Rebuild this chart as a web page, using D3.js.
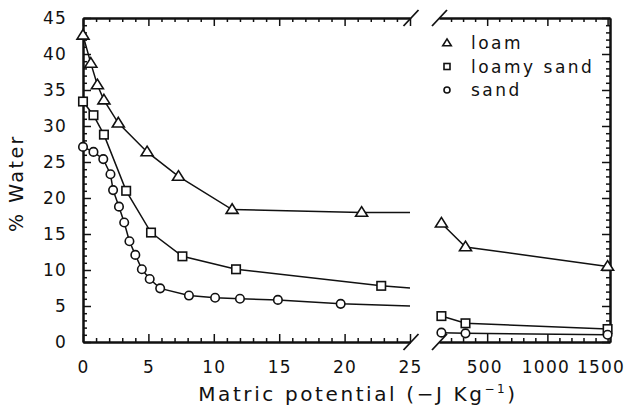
<!DOCTYPE html>
<html><head><meta charset="utf-8">
<script src="https://cdn.jsdelivr.net/npm/d3@7"></script>
<style>
body{margin:0;background:#fff;}
text{font-family:"DejaVu Sans",sans-serif;fill:#111;}
</style></head>
<body><svg id="c" width="628" height="408"></svg>
<script>
// ---- data ----
const yTicks = [0,5,10,15,20,25,30,35,40,45];
const xTicksLeft = [0,5,10,15,20,25];
const xTicksRight = [500,1000,1500];
const xMinorRight = [200,300,400,600,700,800,900,1100,1200,1300,1400];
const seriesNames = ["loam","loamy sand","sand"];

const loamX  = [0,0.6,1.1,1.6,2.7,4.9,7.3,11.4,21.3];
const loamY  = [42.6,38.7,35.7,33.6,30.4,26.4,23.0,18.4,18.0];
const loamEnd = 18.0;             // value where left panel ends (x=25)
const loamXR = [120,320,1500];
const loamYR = [16.5,13.2,10.5];

const lsandX = [0,0.8,1.6,3.3,5.2,7.6,11.7,22.8];
const lsandY = [33.4,31.5,28.8,21.0,15.2,11.9,10.1,7.8];
const lsandEnd = 7.5;
const lsandXR = [120,320,1500];
const lsandYR = [3.6,2.6,1.8];

const sandX = [0,0.8,1.55,2.1,2.3,2.75,3.15,3.55,4.0,4.5,5.1,5.9,8.1,10.1,12.0,14.9,19.7];
const sandY = [27.1,26.4,25.4,23.3,21.1,18.8,16.6,14.0,12.1,10.1,8.75,7.45,6.45,6.15,6.0,5.85,5.3];
const sandEnd = 5.0;
const sandXR = [120,320,1500];
const sandYR = [1.3,1.2,1.0];

const leftMax = 25;

// ---- layout ----
const svg = d3.select("#c");
const y  = d3.scaleLinear().domain([0,45]).range([342,18]);
const xL = d3.scaleLinear().domain([0,leftMax]).range([83,410]);
const xR = d3.scaleLinear().domain([100,1520]).range([439,610]);
const yBot = y(0), yTop = y(45);
const fmt = d3.format("d");

const tickFont = "17px", tickLS = "1.2px";
function styleAxis(g){
  g.selectAll("path.domain").attr("stroke","#111").attr("stroke-width",2);
  g.selectAll(".tick line").attr("stroke","#111").attr("stroke-width",1.5);
  g.selectAll("text").style("font-size",tickFont).style("letter-spacing",tickLS)
    .style("font-family","'DejaVu Sans',sans-serif").attr("fill","#111");
}

// bottom axes
const minorL = d3.range(1,25).filter(d=>d%5!==0);
svg.append("g").attr("transform",`translate(0,${yBot})`)
  .call(d3.axisBottom(xL).tickValues(xTicksLeft).tickFormat(fmt).tickSize(-8).tickSizeOuter(0).tickPadding(19)).call(styleAxis);
svg.append("g").attr("transform",`translate(0,${yBot})`)
  .call(d3.axisBottom(xL).tickValues(minorL).tickSize(-4).tickSizeOuter(0).tickFormat("")).call(styleAxis);
const gxr = svg.append("g").attr("transform",`translate(0,${yBot})`)
  .call(d3.axisBottom(xR).tickValues(xTicksRight).tickFormat(fmt).tickSize(-8).tickSizeOuter(0).tickPadding(19)).call(styleAxis);
// keep right-most labels inside the frame as in the reference
gxr.selectAll(".tick text").attr("dx",(d,i)=> i===0 ? -3 : (i===1 ? -2 : -7));
svg.append("g").attr("transform",`translate(0,${yBot})`)
  .call(d3.axisBottom(xR).tickValues(xMinorRight).tickSize(-4).tickSizeOuter(0).tickFormat("")).call(styleAxis);
// top axes
svg.append("g").attr("transform",`translate(0,${yTop})`)
  .call(d3.axisTop(xL).tickValues(xTicksLeft).tickSize(-8).tickSizeOuter(0).tickFormat("")).call(styleAxis);
svg.append("g").attr("transform",`translate(0,${yTop})`)
  .call(d3.axisTop(xL).tickValues(minorL).tickSize(-4).tickSizeOuter(0).tickFormat("")).call(styleAxis);
svg.append("g").attr("transform",`translate(0,${yTop})`)
  .call(d3.axisTop(xR).tickValues(xTicksRight).tickSize(-8).tickSizeOuter(0).tickFormat("")).call(styleAxis);
svg.append("g").attr("transform",`translate(0,${yTop})`)
  .call(d3.axisTop(xR).tickValues(xMinorRight).tickSize(-4).tickSizeOuter(0).tickFormat("")).call(styleAxis);
// y axes
const minorY = d3.range(1,45).filter(d=>d%5!==0);
svg.append("g").attr("transform",`translate(${xL(0)},0)`)
  .call(d3.axisLeft(y).tickValues(yTicks).tickFormat(fmt).tickSize(-8).tickSizeOuter(0).tickPadding(16)).call(styleAxis);
svg.append("g").attr("transform",`translate(${xL(0)},0)`)
  .call(d3.axisLeft(y).tickValues(minorY).tickSize(-4).tickSizeOuter(0).tickFormat("")).call(styleAxis);
const xRight = xR.range()[1];
svg.append("g").attr("transform",`translate(${xRight},0)`)
  .call(d3.axisRight(y).tickValues(yTicks).tickSize(-8).tickSizeOuter(0).tickFormat("")).call(styleAxis);
svg.append("g").attr("transform",`translate(${xRight},0)`)
  .call(d3.axisRight(y).tickValues(minorY).tickSize(-4).tickSizeOuter(0).tickFormat("")).call(styleAxis);

// break marks
const bks = [xL.range()[1]+1, xR.range()[0]+0.5];
[yTop,yBot].forEach(yy=>{
  bks.forEach(bx=>{
    svg.append("line").attr("x1",bx-7.5).attr("y1",yy+8).attr("x2",bx+7.5).attr("y2",yy-8)
      .attr("stroke","#111").attr("stroke-width",1.8);
  });
});

// ---- series ----
const series = [
  {name:seriesNames[0], x:loamX, y:loamY, end:loamEnd, xr:loamXR, yr:loamYR, sym:"tri"},
  {name:seriesNames[1], x:lsandX, y:lsandY, end:lsandEnd, xr:lsandXR, yr:lsandYR, sym:"sq"},
  {name:seriesNames[2], x:sandX, y:sandY, end:sandEnd, xr:sandXR, yr:sandYR, sym:"circ"},
];
const line = d3.line();
function drawMarker(g, sym, cx, cy, s){
  if(sym==="tri"){
    const h = s*0.8;
    g.append("path").attr("d",`M${cx},${cy-h*0.6}L${cx+s/2},${cy+h*0.4}L${cx-s/2},${cy+h*0.4}Z`)
      .attr("fill","#fff").attr("stroke","#111").attr("stroke-width",1.6).attr("stroke-linejoin","miter");
  } else if(sym==="sq"){
    g.append("rect").attr("x",cx-s/2).attr("y",cy-s/2).attr("width",s).attr("height",s)
      .attr("fill","#fff").attr("stroke","#111").attr("stroke-width",1.6);
  } else {
    g.append("circle").attr("cx",cx).attr("cy",cy).attr("r",s/2)
      .attr("fill","#fff").attr("stroke","#111").attr("stroke-width",1.6);
  }
}
const sizes = {tri:12, sq:8.5, circ:8.5};
series.forEach(s=>{
  const ptsL = s.x.map((v,i)=>[xL(v), y(s.y[i])]);
  const lineL = ptsL.concat([[xL(leftMax), y(s.end)]]);
  const ptsR = s.xr.map((v,i)=>[xR(v), y(s.yr[i])]);
  svg.append("path").attr("d",line(lineL)).attr("fill","none").attr("stroke","#111").attr("stroke-width",1.5);
  svg.append("path").attr("d",line(ptsR)).attr("fill","none").attr("stroke","#111").attr("stroke-width",1.5);
});
series.forEach(s=>{
  const g = svg.append("g");
  s.x.forEach((v,i)=>drawMarker(g, s.sym, xL(v), y(s.y[i]), sizes[s.sym]));
  s.xr.forEach((v,i)=>drawMarker(g, s.sym, xR(v), y(s.yr[i]), sizes[s.sym]));
});

// legend
const legSizes = {tri:8.5, sq:6, circ:6};
series.forEach((s,i)=>{
  const ly = 43 + i*23.5;
  drawMarker(svg, s.sym, 447, ly, legSizes[s.sym]);
  svg.append("text").attr("x",471).attr("y",ly+6).text(s.name)
    .style("font-size","17px").style("letter-spacing","2.5px");
});

// titles
svg.append("text").attr("transform","translate(23,183) rotate(-90)").attr("text-anchor","middle")
  .style("font-size","19px").style("letter-spacing","2.5px").text("% Water");
const xt = svg.append("text").attr("x",358).attr("y",401).attr("text-anchor","middle")
  .style("font-size","20px").style("letter-spacing","2.6px");
xt.append("tspan").text("Matric potential (\u2212J Kg");
xt.append("tspan").attr("dy",-8).style("font-size","12px").text("\u22121");
xt.append("tspan").attr("dy",8).text(")");
</script></body></html>
